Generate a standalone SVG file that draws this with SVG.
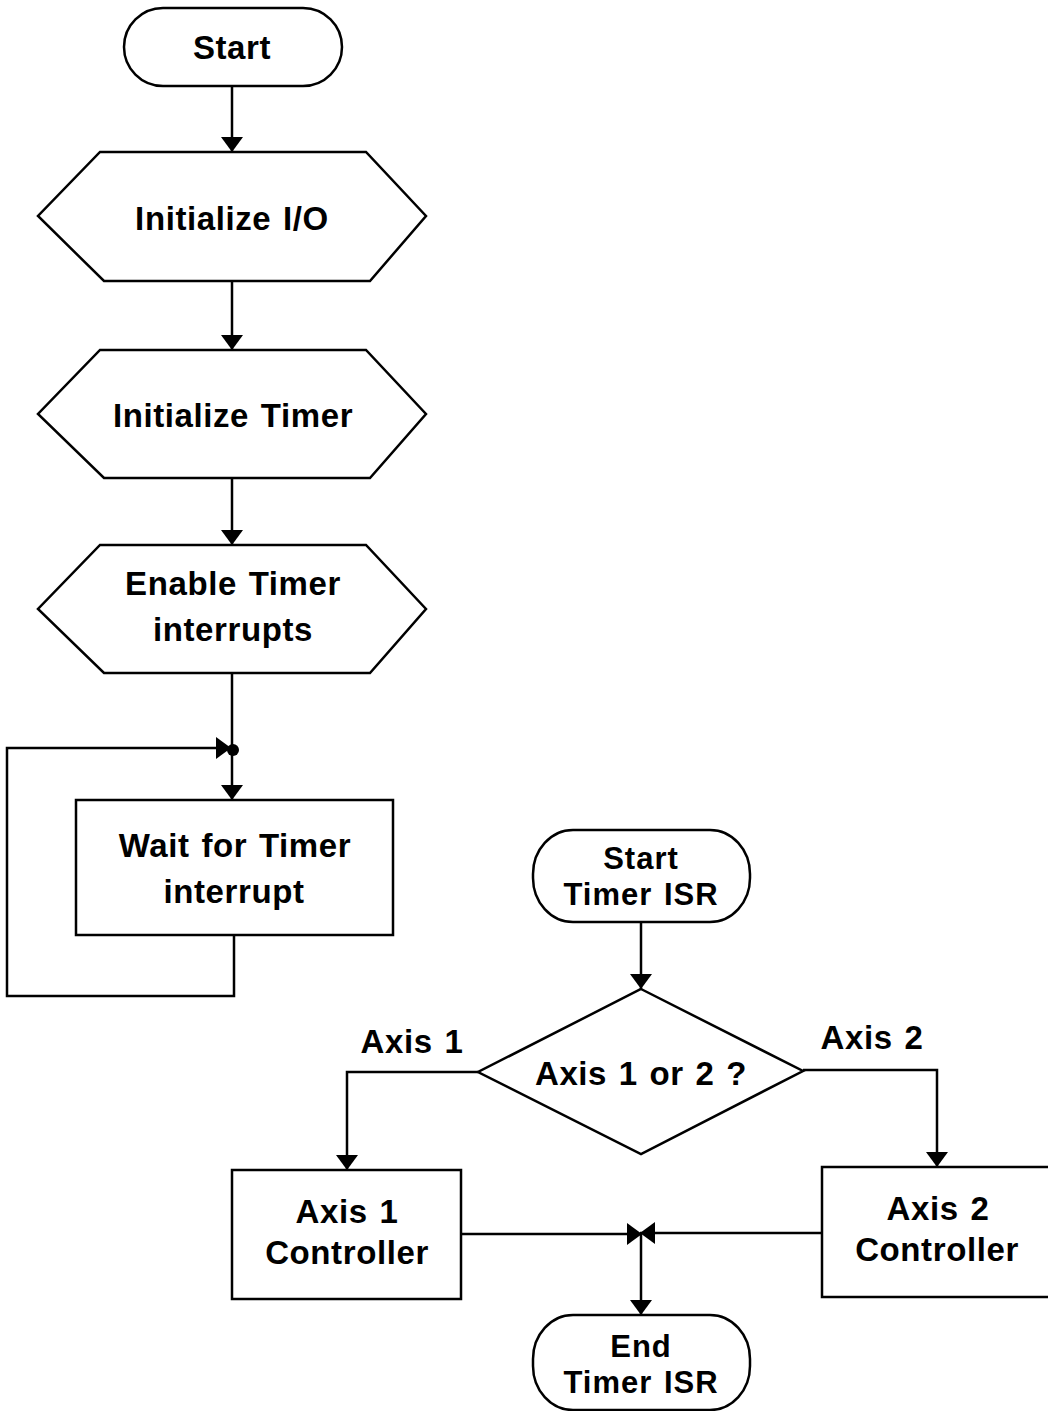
<svg xmlns="http://www.w3.org/2000/svg" width="1048" height="1411" viewBox="0 0 1048 1411">
  <defs>
    <marker id="arrow" viewBox="0 0 15 22" refX="15" refY="11" markerWidth="15" markerHeight="22" markerUnits="userSpaceOnUse" orient="auto">
      <path d="M0,0 L15,11 L0,22 Z" fill="#000"/>
    </marker>
  </defs>
  <style>
    .shape { fill: #fff; stroke: #000; stroke-width: 2.5; }
    .wire { fill: none; stroke: #000; stroke-width: 2.5; }
    .lbl { font-family: "Liberation Sans", Arial, sans-serif; font-weight: bold; font-size: 33px; letter-spacing: 0.6px; word-spacing: 2px; text-anchor: middle; fill: #000; }
    .tight { font-size: 31px; letter-spacing: 1px; }
  </style>

  <rect width="1048" height="1411" fill="#fff"/>

  <!-- connectors -->
  <g id="connectors">
    <path class="wire" d="M232,86 V152" marker-end="url(#arrow)"/>
    <path class="wire" d="M232,281 V350" marker-end="url(#arrow)"/>
    <path class="wire" d="M232,478 V545" marker-end="url(#arrow)"/>
    <path class="wire" d="M232,673 V800" marker-end="url(#arrow)"/>
    <!-- wait loop back to the junction -->
    <path class="wire" d="M234,935 V996 H7 V748 H231" marker-end="url(#arrow)"/>
    <circle cx="233" cy="750" r="6" fill="#000"/>

    <path class="wire" d="M641,922 V989" marker-end="url(#arrow)"/>
    <path class="wire" d="M478,1072 H347 V1170" marker-end="url(#arrow)"/>
    <path class="wire" d="M803,1070 H937 V1167" marker-end="url(#arrow)"/>
    <!-- controllers merge -->
    <path class="wire" d="M461,1234 H642" marker-end="url(#arrow)"/>
    <path class="wire" d="M822,1233 H640" marker-end="url(#arrow)"/>
    <path class="wire" d="M641,1234 V1315" marker-end="url(#arrow)"/>
  </g>

  <!-- main program -->
  <g id="start">
    <rect class="shape" x="124" y="8" width="218" height="78" rx="39" ry="39"/>
    <text class="lbl" x="232" y="59">Start</text>
  </g>

  <g id="init-io">
    <polygon class="shape" points="100,152 366,152 426,216 370,281 104,281 38,216"/>
    <text class="lbl" x="232" y="230">Initialize I/O</text>
  </g>

  <g id="init-timer">
    <polygon class="shape" points="100,350 366,350 426,414 370,478 104,478 38,414"/>
    <text class="lbl" x="233" y="427">Initialize Timer</text>
  </g>

  <g id="enable-interrupts">
    <polygon class="shape" points="100,545 366,545 426,609 370,673 104,673 38,609"/>
    <text class="lbl" x="233" y="595">Enable Timer</text>
    <text class="lbl" x="233" y="641">interrupts</text>
  </g>

  <g id="wait-interrupt">
    <rect class="shape" x="76" y="800" width="317" height="135"/>
    <text class="lbl" x="235" y="857">Wait for Timer</text>
    <text class="lbl" x="234" y="903">interrupt</text>
  </g>

  <!-- timer interrupt service routine -->
  <g id="isr-start">
    <rect class="shape" x="533" y="830" width="217" height="92" rx="40" ry="44"/>
    <text class="lbl tight" x="641" y="869">Start</text>
    <text class="lbl tight" x="641" y="905">Timer ISR</text>
  </g>

  <g id="axis-decision">
    <polygon class="shape" points="641,989 803,1071 641,1154 478,1072"/>
    <text class="lbl" x="641" y="1085">Axis 1 or 2 ?</text>
    <text class="lbl" x="412" y="1053">Axis 1</text>
    <text class="lbl" x="872" y="1049">Axis 2</text>
  </g>

  <g id="axis1-controller">
    <rect class="shape" x="232" y="1170" width="229" height="129"/>
    <text class="lbl" x="347" y="1223">Axis 1</text>
    <text class="lbl" x="347" y="1264">Controller</text>
  </g>

  <g id="axis2-controller">
    <rect class="shape" x="822" y="1167" width="232" height="130"/>
    <text class="lbl" x="938" y="1220">Axis 2</text>
    <text class="lbl" x="937" y="1261">Controller</text>
  </g>

  <g id="isr-end">
    <rect class="shape" x="533" y="1315" width="217" height="95" rx="40" ry="44"/>
    <text class="lbl tight" x="641" y="1357">End</text>
    <text class="lbl tight" x="641" y="1393">Timer ISR</text>
  </g>
</svg>
